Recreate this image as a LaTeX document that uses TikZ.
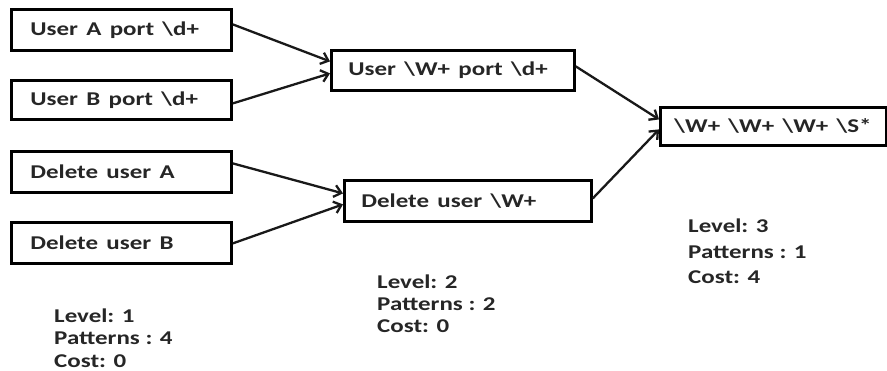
\documentclass[tikz,border=0pt]{standalone}
\usepackage{fontspec}
\setmainfont{Carlito}
\usepackage{graphicx}
\usetikzlibrary{arrows.meta}
\newcommand{\stretchtxt}[1]{\scalebox{1.28}[1]{#1}}
\newcommand{\bs}{\textbackslash}
\begin{document}
\begin{tikzpicture}[x=1pt,y=-1pt,
  every node/.style={font=\fontsize{19.5}{23.5}\selectfont\bfseries, text=black!85},
  box/.style={draw=black, line width=2.8pt, anchor=north west, inner ysep=0pt, align=left},
  lbl/.style={anchor=base west, inner sep=0pt},
  conn/.style={draw=black!90, line width=2.3pt, -{Straight Barb[length=7pt,width=12pt,line width=2.3pt]}}]
\useasboundingbox (0,0) rectangle (887,371);
% level 1 boxes
\node[box, inner xsep=19pt, text width=182pt, minimum height=41pt] (ua) at (10,8) {\stretchtxt{User A port \bs d+}};
\node[box, inner xsep=19pt, text width=182pt, minimum height=39pt] (ub) at (10,79) {\stretchtxt{User B port \bs d+}};
\node[box, inner xsep=19pt, text width=182pt, minimum height=41pt] (da) at (10,150) {\stretchtxt{Delete user A}};
\node[box, inner xsep=19pt, text width=182pt, minimum height=41pt] (db) at (10,221) {\stretchtxt{Delete user B}};
% level 2 boxes
\node[box, inner xsep=17pt, text width=209pt, minimum height=40pt] (uw) at (330,49) {\stretchtxt{User \bs W+ port \bs d+}};
\node[box, inner xsep=17pt, text width=213pt, minimum height=41pt] (dw) at (343,179) {\stretchtxt{Delete user \bs W+}};
% level 3 box
\node[box, inner xsep=14pt, text width=198pt, minimum height=38pt] (ww) at (659,106) {\stretchtxt{\bs W+ \bs W+ \bs W+ \bs S*}};
% connectors
\draw[conn] ([yshift=5.5pt]ua.east) -- ([yshift=9pt]uw.west);
\draw[conn] ([yshift=-3.5pt]ub.east) -- ([yshift=-3pt]uw.west);
\draw[conn] ([yshift=8.5pt]da.east) -- ([yshift=7.5pt]dw.west);
\draw[conn] ([yshift=-0.5pt]db.east) -- ([yshift=-3.5pt]dw.west);
\draw[conn] ([yshift=4pt]uw.east) -- ([yshift=7pt]ww.west);
\draw[conn] ([yshift=2.5pt]dw.east) -- ([yshift=-3pt]ww.west);
% labels
\node[lbl] (l1a) at (54,322.5) {\stretchtxt{Level: 1}};
\node[lbl] (l1b) at (54,345) {\stretchtxt{Patterns : 4}};
\node[lbl] (l1c) at (54,367.5) {\stretchtxt{Cost: 0}};
\node[lbl] (l2a) at (377,289) {\stretchtxt{Level: 2}};
\node[lbl] (l2b) at (377,311) {\stretchtxt{Patterns : 2}};
\node[lbl] (l2c) at (377,333) {\stretchtxt{Cost: 0}};
\node[lbl] (l3a) at (688,233) {\stretchtxt{Level: 3}};
\node[lbl] (l3b) at (688,258.5) {\stretchtxt{Patterns : 1}};
\node[lbl] (l3c) at (688,284) {\stretchtxt{Cost: 4}};
\end{tikzpicture}
\end{document}
